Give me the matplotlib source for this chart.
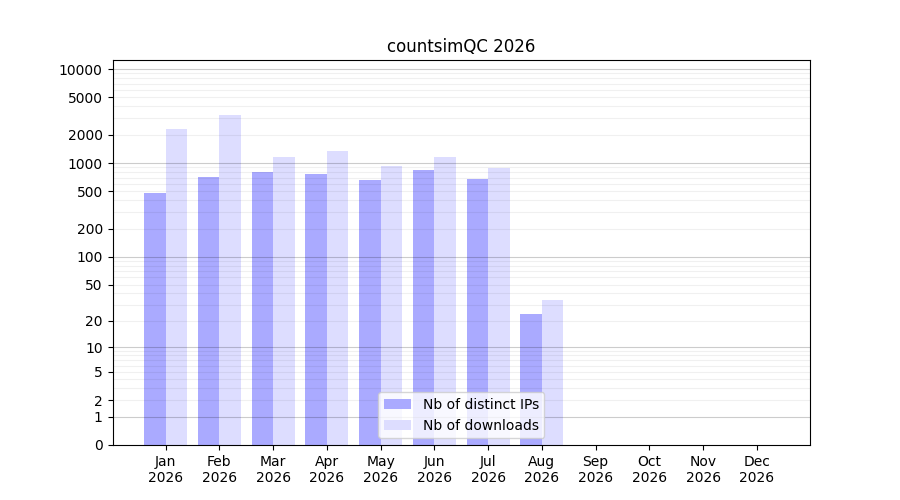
import numpy as np
import matplotlib
matplotlib.use('Agg')
import matplotlib.pyplot as plt

# monthly stats
months = ['Jan', 'Feb', 'Mar', 'Apr', 'May', 'Jun', 'Jul', 'Aug', 'Sep', 'Oct', 'Nov', 'Dec']
year = 2026
distinct_ips = [480, 710, 800, 765, 660, 840, 675, 24, 0, 0, 0, 0]
downloads = [2300, 3240, 1160, 1340, 930, 1160, 885, 34, 0, 0, 0, 0]
ytick_values = [0, 1, 2, 5, 10, 20, 50, 100, 200, 500, 1000, 2000, 5000, 10000]


def fwd(v):
    return np.log10(1 + np.clip(v, 0, None))


def inv(v):
    return 10 ** v - 1


x = np.arange(1, len(months) + 1)

fig, ax = plt.subplots(figsize=(9, 5), dpi=100)
ax.set_yscale('function', functions=(fwd, inv))

ax.bar(x - 0.2, distinct_ips, width=0.4, color='#aaaaff', label='Nb of distinct IPs', zorder=1)
ax.bar(x + 0.2, downloads, width=0.4, color='#ddddff', label='Nb of downloads', zorder=1)

# grid lines: decades darker, in-between values lighter
for k in range(0, 5):
    ax.axhline(10 ** k, color='k', alpha=0.2, lw=0.8, zorder=2)
    if k < 4:
        for m in range(2, 10):
            ax.axhline(m * 10 ** k, color='k', alpha=0.06, lw=0.8, zorder=2)

ax.set_yticks(ytick_values)
ax.set_yticklabels([str(v) for v in ytick_values])
ax.yaxis.set_minor_locator(matplotlib.ticker.NullLocator())
ax.set_ylim(0, 12500)

ax.set_xticks(x)
ax.set_xticklabels([f'{m}\n{year}' for m in months])
ax.set_xlim(0.013, 12.987)

ax.set_title(f'countsimQC {year}')
ax.legend(loc='lower center')

plt.savefig('out.png')
